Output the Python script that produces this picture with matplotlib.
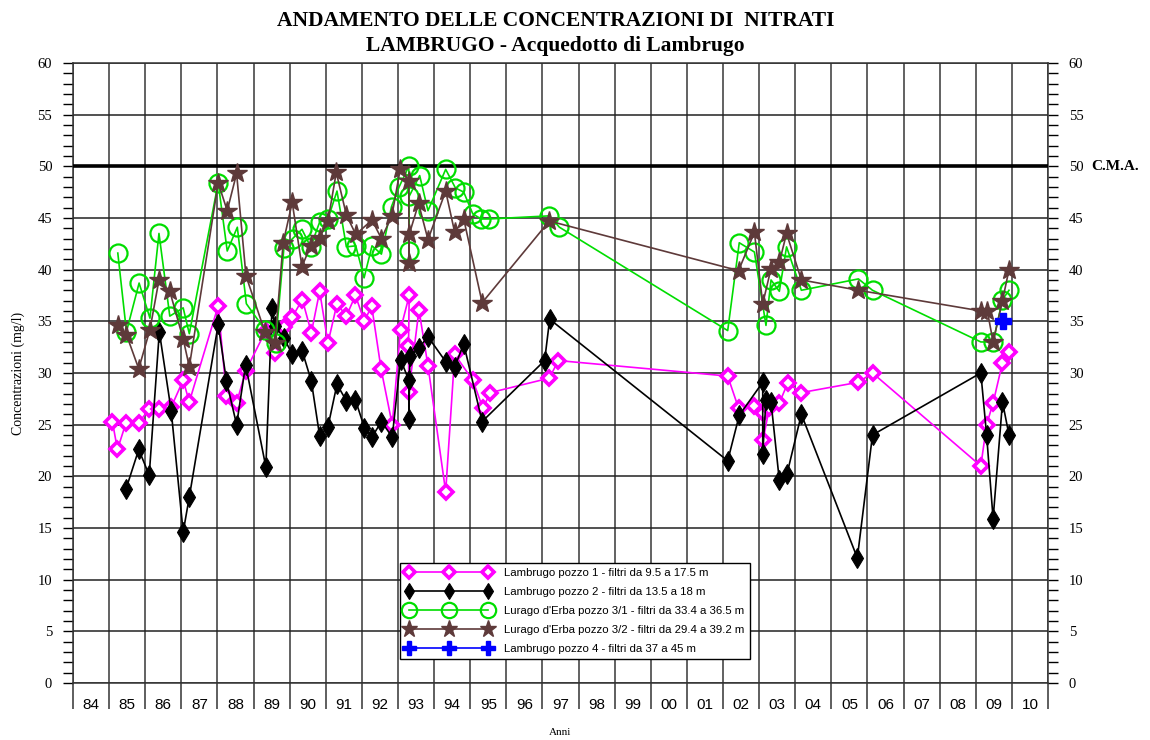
import numpy as np
import matplotlib.pyplot as plt
from matplotlib.ticker import MultipleLocator, FixedLocator, NullFormatter, FixedFormatter

# Lambrugo pozzo 1 - filtri da 9.5 a 17.5 m
anni_p1 = [1985.09, 1985.23, 1985.47, 1985.82, 1986.11, 1986.39, 1986.72, 1987.05, 1987.22,
           1988.02, 1988.25, 1988.53, 1988.78, 1989.34, 1989.59, 1989.84, 1990.07, 1990.35,
           1990.60, 1990.83, 1991.06, 1991.31, 1991.57, 1991.82, 1992.07, 1992.27, 1992.53,
           1992.84, 1993.07, 1993.31, 1993.29, 1993.30, 1993.58, 1993.83, 1994.32, 1994.57,
           1995.07, 1995.35, 1995.56, 1997.19, 1997.44,
           2002.13, 2002.43, 2002.87, 2003.10, 2003.11, 2003.28, 2003.56, 2003.79, 2004.17,
           2005.75, 2006.14, 2009.14, 2009.30, 2009.48, 2009.74, 2009.92]
nitrati_p1 = [25.3, 22.6, 25.2, 25.2, 26.5, 26.5, 26.7, 29.3, 27.2,
              36.5, 27.8, 27.1, 30.2, 34.1, 31.9, 34.4, 35.4, 37.1,
              33.9, 37.9, 32.9, 36.7, 35.5, 37.5, 35.0, 36.5, 30.4,
              25.0, 34.2, 37.5, 32.6, 28.2, 36.1, 30.7, 18.5, 31.8,
              29.3, 26.6, 28.1, 29.5, 31.2,
              29.7, 26.6, 26.8, 26.1, 23.5, 26.6, 27.1, 29.0, 28.1,
              29.1, 30.0, 21.0, 25.0, 27.1, 31.0, 32.0]

# Lambrugo pozzo 2 - filtri da 13.5 a 18 m
anni_p2 = [1985.47, 1985.82, 1986.11, 1986.39, 1986.72, 1987.05, 1987.22,
           1988.02, 1988.25, 1988.53, 1988.78, 1989.34, 1989.51, 1989.59, 1989.84,
           1990.07, 1990.35, 1990.60, 1990.83, 1991.06, 1991.31, 1991.57, 1991.82,
           1992.07, 1992.28, 1992.54, 1992.84, 1993.07, 1993.30, 1993.30, 1993.33,
           1993.57, 1993.83, 1994.32, 1994.57, 1994.82, 1995.33, 1997.06, 1997.20,
           2002.13, 2002.45, 2003.10, 2003.10, 2003.19, 2003.33, 2003.56, 2003.77,
           2004.17, 2005.72, 2006.14, 2009.14, 2009.30, 2009.48, 2009.74, 2009.92]
nitrati_p2 = [18.8, 22.6, 20.1, 34.0, 26.3, 14.6, 18.0,
              34.7, 29.2, 25.0, 30.8, 20.9, 36.3, 34.5, 33.4,
              31.8, 32.1, 29.2, 23.9, 24.8, 28.9, 27.3, 27.4,
              24.7, 23.8, 25.3, 23.8, 31.3, 29.3, 25.5, 31.6,
              32.4, 33.5, 31.1, 30.6, 32.8, 25.3, 31.2, 35.2,
              21.5, 25.9, 29.1, 22.2, 27.4, 27.2, 19.6, 20.2,
              26.0, 12.1, 24.0, 30.0, 24.0, 15.9, 27.2, 24.0]

# Lurago d'Erba pozzo 3/1 - filtri da 33.4 a 36.5 m
anni_p31 = [1985.24, 1985.48, 1985.83, 1986.13, 1986.38, 1986.68, 1987.05, 1987.22,
            1988.02, 1988.27, 1988.55, 1988.80, 1989.31, 1989.61, 1989.84, 1990.08,
            1990.34, 1990.58, 1990.83, 1991.06, 1991.31, 1991.57, 1991.83, 1992.06,
            1992.28, 1992.54, 1992.82, 1993.03, 1993.30, 1993.30, 1993.31, 1993.60,
            1993.83, 1994.32, 1994.59, 1994.82, 1995.07, 1995.30, 1995.52, 1997.19, 1997.47,
            2002.13, 2002.45, 2002.87, 2003.19, 2003.33, 2003.56, 2003.76, 2004.17,
            2005.75, 2006.14, 2009.14, 2009.48, 2009.74, 2009.92]
nitrati_p31 = [41.6, 34.0, 38.7, 35.3, 43.5, 35.5, 36.3, 33.8,
               48.4, 41.8, 44.1, 36.7, 34.2, 32.9, 42.1, 43.0,
               43.9, 42.2, 44.6, 44.9, 47.6, 42.2, 42.3, 39.2,
               42.3, 41.5, 46.1, 48.0, 50.0, 41.8, 47.1, 49.1,
               45.7, 49.7, 47.9, 47.5, 45.4, 44.9, 44.9, 45.2, 44.1,
               34.1, 42.6, 41.7, 34.6, 39.0, 37.9, 42.2, 38.0,
               39.1, 38.0, 33.0, 33.0, 37.1, 38.0]

# Lurago d'Erba pozzo 3/2 - filtri da 29.4 a 39.2 m
anni_p32 = [1985.24, 1985.48, 1985.82, 1986.13, 1986.38, 1986.68, 1987.05, 1987.22,
            1988.02, 1988.27, 1988.53, 1988.79, 1989.31, 1989.59, 1989.82, 1990.07,
            1990.34, 1990.58, 1990.83, 1991.06, 1991.29, 1991.57, 1991.83, 1992.28,
            1992.54, 1992.83, 1993.06, 1993.30, 1993.30, 1993.31, 1993.57, 1993.83,
            1994.32, 1994.57, 1994.82, 1995.33, 1997.19,
            2002.43, 2002.87, 2003.10, 2003.33, 2003.56, 2003.76, 2004.17, 2005.75,
            2009.14, 2009.32, 2009.48, 2009.74, 2009.92]
nitrati_p32 = [34.6, 33.7, 30.4, 34.2, 39.0, 37.9, 33.3, 30.6,
               48.4, 45.7, 49.3, 39.4, 34.0, 32.9, 42.6, 46.5,
               40.3, 42.3, 43.1, 44.7, 49.4, 45.3, 43.4, 44.8,
               43.0, 45.2, 49.7, 48.6, 40.6, 43.4, 46.4, 42.9,
               47.6, 43.6, 44.9, 36.8, 44.7,
               39.9, 43.6, 36.7, 40.1, 40.7, 43.5, 39.0, 38.0,
               36.0, 36.0, 33.0, 37.0, 40.0]

# Lambrugo pozzo 4 - filtri da 37 a 45 m
anni_p4 = [2009.76]
nitrati_p4 = [35.0]

cma = 50
anni_etichette = ['84', '85', '86', '87', '88', '89', '90', '91', '92', '93', '94', '95', '96', '97',
                  '98', '99', '00', '01', '02', '03', '04', '05', '06', '07', '08', '09', '10']

serif = 'Liberation Serif'
sans = 'Liberation Sans'

fig = plt.figure(figsize=(11.5, 7.4), dpi=100)
ax = fig.add_axes([0.0635, 0.077, 0.8478, 0.838])

ax.plot(anni_p1, nitrati_p1, color='#ff00ff', lw=1.2, marker='D', ms=7, mfc='white',
        mec='#ff00ff', mew=2.6, label='Lambrugo pozzo 1 - filtri da 9.5 a 17.5 m', zorder=5)
ax.plot(anni_p2, nitrati_p2, color='black', lw=1.2, marker='d', ms=10, mfc='black',
        mec='black', mew=0.8, label='Lambrugo pozzo 2 - filtri da 13.5 a 18 m', zorder=5)
ax.plot(anni_p31, nitrati_p31, color='#00dd00', lw=1.2, marker='o', ms=13, mfc='none',
        mec='#00dd00', mew=1.6, label="Lurago d'Erba pozzo 3/1 - filtri da 33.4 a 36.5 m", zorder=5)
ax.plot(anni_p32, nitrati_p32, color='#5e3a3a', lw=1.2, marker='*', ms=15, mfc='#5e3a3a',
        mec='#5e3a3a', label="Lurago d'Erba pozzo 3/2 - filtri da 29.4 a 39.2 m", zorder=5)
ax.plot(anni_p4, nitrati_p4, color='#0000ff', lw=1.2, marker='P', ms=12, mfc='#0000ff',
        mec='#0000ff', label='Lambrugo pozzo 4 - filtri da 37 a 45 m', zorder=6)

# limite C.M.A.
ax.axhline(cma, color='black', lw=2.6, zorder=4)
ax.text(1.044, cma, 'C.M.A.', transform=ax.get_yaxis_transform(), va='center', ha='left',
        fontsize=11, fontweight='bold', family=serif)

ax.set_xlim(1984, 2011)
ax.set_ylim(0, 60)

# griglia: anni in verticale, 5 mg/l in orizzontale
ax.xaxis.set_major_locator(MultipleLocator(1))
ax.xaxis.set_major_formatter(NullFormatter())
ax.xaxis.set_minor_locator(FixedLocator(np.arange(1984.5, 2011, 1)))
ax.xaxis.set_minor_formatter(FixedFormatter(anni_etichette))
ax.tick_params(axis='x', which='major', direction='out', length=19, width=1.1, color='#333333')
ax.tick_params(axis='x', which='minor', length=0, pad=11, labelsize=11)
for lab in ax.xaxis.get_minorticklabels():
    lab.set_family(sans)

ax.yaxis.set_major_locator(MultipleLocator(5))
ax.yaxis.set_minor_locator(MultipleLocator(1))
ax.tick_params(axis='y', which='both', direction='out', length=7, width=1,
               left=True, right=True, labelleft=True, labelright=True, labelsize=10.5, pad=8)
for lab in ax.yaxis.get_majorticklabels():
    lab.set_family(serif)

ax.grid(axis='x', which='major', color='#555555', lw=1.3)
ax.grid(axis='y', which='major', color='#222222', lw=1.1)
ax.set_axisbelow(True)
for s in ax.spines.values():
    s.set_color('#333333')
    s.set_linewidth(1.1)

fig.text(0.016, 0.495, 'Concentrazioni (mg/l)', rotation=90, va='center', ha='center',
         fontsize=10, family=serif)
fig.text(0.487, 0.004, 'Anni', va='bottom', ha='center', fontsize=8, family=serif)
fig.text(0.483, 0.972, 'ANDAMENTO DELLE CONCENTRAZIONI DI  NITRATI', va='center', ha='center',
         fontsize=15.5, fontweight='bold', family=serif)
fig.text(0.483, 0.938, 'LAMBRUGO - Acquedotto di Lambrugo', va='center', ha='center',
         fontsize=15.5, fontweight='bold', family=serif)

leg = ax.legend(loc='upper left', bbox_to_anchor=(0.348, 0.239), bbox_transform=fig.transFigure,
                borderaxespad=0, numpoints=3, handlelength=7.6, fancybox=False, framealpha=1,
                edgecolor='black', prop={'family': sans, 'size': 8.2}, labelspacing=0.78,
                borderpad=0.45, handletextpad=1.1, markerscale=0.85)
leg.get_frame().set_linewidth(1.0)
leg.set_zorder(10)

fig.savefig('out.png', dpi=100)
